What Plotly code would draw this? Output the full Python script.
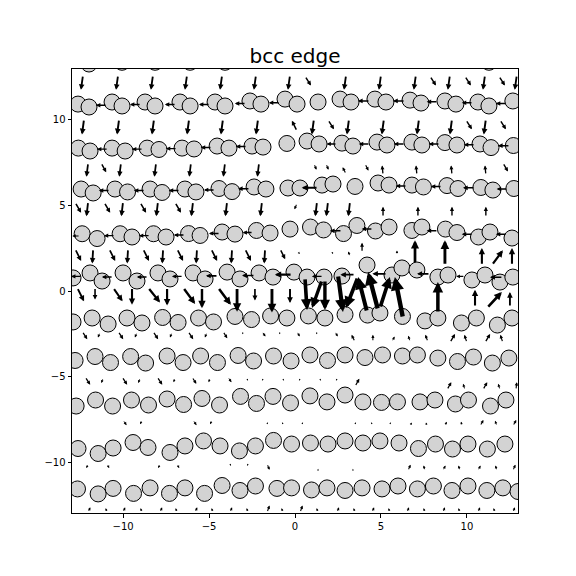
import plotly.graph_objects as go

# ---------------- atom rows (x, y) ----------------
r0_x = [-12.62,-11.98,-10.64,-10.06,-8.72,-8.14,-6.69,-6.10,-4.65,-4.07,-2.62,-1.98,-0.58,0.12,1.34,2.62,3.26,4.65,5.29,6.69,7.33,8.72,9.36,10.64,11.28,12.67]
r0_y = [13.4,13.2,13.5,13.3,13.5,13.3,13.5,13.3,13.5,13.3,13.55,13.4,13.65,13.4,13.5,13.65,13.5,13.65,13.5,13.6,13.45,13.55,13.4,13.5,13.3,13.55]
r1_x = [-12.62,-11.98,-10.64,-10.06,-8.72,-8.14,-6.69,-6.10,-4.65,-4.07,-2.62,-1.98,-0.58,0.12,1.34,2.62,3.26,4.65,5.29,6.69,7.33,8.72,9.36,10.64,11.28,12.67]
r1_y = [10.87,10.70,10.99,10.76,10.99,10.76,10.99,10.76,10.99,10.76,11.05,10.87,11.16,10.87,10.99,11.16,10.99,11.16,10.99,11.10,10.93,11.05,10.87,10.99,10.76,11.05]
r2_x = [-12.6,-11.92,-10.64,-9.88,-8.6,-7.91,-6.57,-5.87,-4.53,-3.84,-2.5,-1.86,-0.47,0.7,1.4,2.73,3.37,4.77,5.35,6.8,7.38,8.72,9.42,10.76,11.4,12.7]
r2_y = [8.31,8.14,8.31,8.14,8.31,8.23,8.31,8.26,8.43,8.31,8.43,8.37,8.58,8.72,8.55,8.6,8.43,8.66,8.49,8.66,8.49,8.63,8.49,8.55,8.34,8.46]
r3_x = [-12.44,-11.74,-10.47,-9.74,-8.43,-7.73,-6.4,-5.76,-4.42,-3.66,-2.38,-1.69,-0.41,0.29,1.57,2.21,3.49,4.83,5.47,6.8,7.47,8.84,9.48,10.81,11.51,12.73]
r3_y = [5.93,5.70,5.93,5.76,5.93,5.73,5.93,5.76,5.96,5.78,6.05,5.93,5.99,5.99,6.16,6.22,6.08,6.28,6.16,6.16,6.05,6.13,5.96,6.02,5.87,5.96]
r4_x = [-12.38,-11.51,-10.17,-9.48,-8.23,-7.5,-6.19,-5.52,-4.24,-3.49,-2.24,-1.45,-0.29,0.9,1.66,2.82,3.6,4.68,5.47,6.8,7.38,8.75,9.42,10.67,11.34,12.62]
r4_y = [3.33,3.05,3.33,3.14,3.33,3.14,3.34,3.23,3.43,3.31,3.52,3.37,3.6,3.72,3.55,3.34,3.81,3.49,3.72,3.52,3.72,3.6,3.4,3.14,3.43,3.08]
r5_x = [-12.91,-11.92,-11.22,-10.0,-9.19,-7.97,-7.27,-5.93,-5.23,-3.95,-3.2,-2.09,-1.28,-0.06,0.7,1.69,2.73,4.19,5.64,6.22,7.09,8.31,8.9,10.29,11.05,11.92,12.67]
r5_y = [0.76,1.05,0.58,1.05,0.58,1.05,0.7,1.05,0.7,1.1,0.7,1.05,0.81,1.1,0.81,0.81,0.87,1.51,0.93,1.34,1.22,0.81,0.93,0.64,0.93,0.52,0.81]
r6_x = [-12.91,-11.8,-10.87,-9.77,-8.9,-7.7,-6.8,-5.61,-4.74,-3.49,-2.53,-1.42,-0.47,0.78,1.74,2.91,4.22,4.94,6.25,7.56,8.31,9.68,10.55,11.77,12.62]
r6_y = [-1.8,-1.57,-1.92,-1.57,-1.86,-1.54,-1.83,-1.57,-1.8,-1.48,-1.66,-1.45,-1.57,-1.45,-1.57,-1.37,-1.4,-1.28,-1.48,-1.74,-1.57,-1.86,-1.57,-1.98,-1.57]
r7_x = [-12.79,-11.63,-10.73,-9.56,-8.69,-7.44,-6.51,-5.49,-4.51,-3.31,-2.41,-1.25,-0.23,0.87,1.89,2.91,4.07,5.09,6.25,7.12,8.31,9.45,10.38,11.48,12.44]
r7_y = [-4.04,-3.81,-4.16,-3.81,-4.19,-3.78,-4.16,-3.78,-4.16,-3.75,-4.07,-3.78,-4.07,-3.72,-4.04,-3.72,-3.87,-3.72,-3.78,-3.72,-3.9,-4.1,-3.84,-4.19,-3.9]
r8_x = [-12.73,-11.6,-10.61,-9.51,-8.52,-7.44,-6.48,-5.41,-4.39,-3.17,-2.24,-1.28,-0.26,0.87,1.86,2.91,3.95,5.03,5.96,7.27,8.14,9.33,10.09,11.37,12.27]
r8_y = [-6.69,-6.34,-6.69,-6.34,-6.63,-6.28,-6.6,-6.25,-6.63,-6.13,-6.54,-6.13,-6.51,-6.1,-6.45,-6.05,-6.45,-6.48,-6.45,-6.45,-6.34,-6.57,-6.34,-6.69,-6.34]
r9_x = [-12.62,-11.45,-10.58,-9.42,-8.55,-7.27,-6.4,-5.32,-4.36,-3.23,-2.3,-1.25,-0.2,0.9,1.92,2.91,3.95,4.94,6.05,7.18,8.17,9.16,10.06,11.19,12.21]
r9_y = [-9.16,-9.45,-9.13,-8.81,-9.1,-9.39,-9.01,-8.72,-9.01,-9.3,-9.01,-8.69,-8.9,-8.84,-8.9,-8.72,-8.84,-8.72,-8.84,-9.16,-8.9,-9.19,-8.9,-9.19,-8.9]
r10_x = [-12.65,-11.45,-10.58,-9.39,-8.43,-7.3,-6.4,-5.26,-4.24,-3.2,-2.3,-1.05,-0.2,0.96,1.86,2.91,3.9,5.06,5.99,7.12,8.05,9.13,10.06,11.16,12.09,12.97]
r10_y = [-11.51,-11.8,-11.48,-11.77,-11.45,-11.77,-11.45,-11.77,-11.31,-11.6,-11.34,-11.48,-11.45,-11.57,-11.45,-11.6,-11.45,-11.51,-11.34,-11.51,-11.34,-11.6,-11.34,-11.6,-11.45,-11.66]

# ---------------- displacement arrows: tail (x, y), vector (u, v) ----------------
b1_x = [-12.33,-10.29,-8.26,-6.28,-4.24,-2.27,-0.29,2.97,5.0,7.03,9.01,11.05,12.9,0.58,7.85,9.88,11.86]
b1_y = [12.55,12.55,12.55,12.55,12.55,12.55,12.55,12.55,12.55,12.55,12.55,12.55,12.55,12.5,12.5,12.5,12.5]
b1_u = [-0.12,-0.12,-0.12,-0.12,-0.12,-0.12,-0.12,-0.12,-0.12,-0.12,-0.12,-0.12,-0.12,0.35,0.35,0.35,0.35]
b1_v = [-0.85,-0.85,-0.85,-0.85,-0.85,-0.85,-0.85,-0.85,-0.85,-0.85,-0.85,-0.85,-0.85,-0.55,-0.55,-0.55,-0.55]

b2_x = [-12.27,-10.23,-8.2,-6.16,-4.19,-2.15,1.1,3.14,5.17,7.21,9.13,11.1,1.92,9.94,11.92,0.12]
b2_y = [10.0,10.0,10.0,10.0,10.0,10.0,10.0,10.0,10.0,10.0,10.0,10.0,9.95,9.95,9.95,9.3]
b2_u = [-0.12,-0.12,-0.12,-0.12,-0.12,-0.12,-0.12,-0.12,-0.12,-0.12,-0.12,-0.12,0.35,0.35,0.35,-0.3]
b2_v = [-0.9,-0.9,-0.9,-0.9,-0.9,-0.9,-0.9,-0.9,-0.9,-0.9,-0.9,-0.9,-0.55,-0.55,-0.55,0.6]

b3_x = [-12.03,-10.12,-8.08,-6.05,-4.07,-2.09,-11.28,0.12,1.1,1.8,4.07,12.09,2.97,5.12,7.09,9.13,11.1]
b3_y = [7.45,7.45,7.45,7.45,7.45,7.45,7.45,7.3,7.4,7.4,7.4,7.45,6.8,6.75,6.75,6.75,6.75]
b3_u = [-0.1,-0.1,-0.1,-0.1,-0.1,-0.1,0.3,0.05,0.15,0.15,0.2,0.3,-0.2,-0.05,-0.05,-0.05,-0.05]
b3_v = [-0.8,-0.8,-0.8,-0.8,-0.8,-0.8,-0.55,-0.1,-0.35,-0.35,-0.4,-0.5,0.4,0.55,0.55,0.55,0.55]

b4_x = [-12.03,-10.0,-7.97,-5.93,-3.95,-1.92,1.28,1.92,3.2,-12.79,-11.1,-9.01,-6.98,0.12,5.12,7.15,9.13,11.1]
b4_y = [5.2,5.2,5.2,5.2,5.2,5.2,5.2,5.2,5.2,5.15,5.15,5.15,5.15,5.1,4.3,4.3,4.3,4.3]
b4_u = [-0.1,-0.1,-0.1,-0.1,-0.1,-0.1,-0.1,-0.1,-0.1,0.35,0.35,0.35,0.35,-0.15,0.0,0.0,0.0,0.0]
b4_v = [-0.85,-0.85,-0.85,-0.85,-0.85,-0.85,-0.85,-0.85,-0.85,-0.6,-0.6,-0.6,-0.6,-0.35,0.6,0.6,0.6,0.6]

b5_x = [-11.74,-9.71,-7.67,-5.7,-3.66,-1.74,-12.79,-10.81,-8.84,-6.86,-4.88,-2.91,-0.87,0.17,2.15,3.2,3.9,5.93,6.98,8.72,10.87,11.45,12.62]
b5_y = [2.45,2.45,2.45,2.45,2.45,2.45,2.45,2.45,2.45,2.45,2.45,2.45,2.45,2.3,2.3,2.0,2.25,2.1,1.6,1.5,1.5,1.5,1.5]
b5_u = [-0.05,-0.05,-0.05,-0.05,-0.05,-0.05,0.35,0.35,0.35,0.35,0.35,0.35,0.3,0.1,0.05,-0.1,0.0,0.0,0.0,0.0,0.0,0.64,0.0]
b5_v = [-0.85,-0.85,-0.85,-0.85,-0.85,-0.85,-0.7,-0.7,-0.7,-0.7,-0.7,-0.7,-0.6,-0.15,-0.15,0.3,0.55,0.25,1.35,1.45,1.0,0.87,1.0]

b6_x = [-12.67,-10.58,-8.55,-6.51,-4.48,-11.63,-9.48,-7.44,-5.41,-3.37,-2.33,-1.34,-0.29]
b6_y = [0.2,0.2,0.2,0.2,0.2,0.2,0.2,0.2,0.2,0.2,0.2,0.2,0.2]
b6_u = [0.4,0.55,0.7,0.7,0.75,0.0,0.0,0.0,0.0,0.0,0.0,0.0,0.0]
b6_v = [-0.8,-0.8,-0.87,-0.95,-1.0,-0.7,-1.0,-1.05,-1.2,-1.4,-0.75,-1.45,-0.9]

core_x = [0.58,1.57,1.74,2.5,3.66,4.19,4.83,4.94,6.28,8.31,10.47,11.16,12.5]
core_y = [0.76,0.64,0.64,0.93,0.81,-1.22,-1.1,-0.99,-1.57,-1.28,-0.93,-0.99,-0.93]
core_u = [0.12,-0.58,0.0,0.29,-0.7,-0.52,-0.58,0.58,-0.47,0.0,0.0,0.87,0.0]
core_v = [-1.86,-1.63,-1.74,-2.15,-1.8,2.03,2.2,1.8,2.38,1.8,1.0,0.93,0.87]

b7_x = [-12.38,-10.29,-8.26,-6.22,-4.19,-1.92,0.12,2.33,-11.34,-9.19,-7.15,-5.12,-3.02,-0.87,1.28,3.49,4.53,5.64,6.69,7.73,9.01,10.0,11.05,12.09]
b7_y = [-2.35,-2.35,-2.35,-2.35,-2.35,-2.35,-2.35,-2.35,-2.4,-2.4,-2.4,-2.4,-2.4,-2.4,-2.4,-2.95,-2.95,-2.95,-2.95,-2.95,-3.0,-3.0,-3.0,-3.0]
b7_u = [0.3,0.3,0.3,0.3,0.25,0.2,0.15,0.15,-0.12,-0.12,-0.12,-0.12,-0.05,-0.05,-0.05,-0.2,0.0,0.15,-0.1,-0.15,0.3,-0.15,0.3,-0.15]
b7_v = [-0.45,-0.45,-0.45,-0.45,-0.4,-0.3,-0.3,-0.3,-0.3,-0.3,-0.3,-0.3,-0.12,-0.12,-0.12,0.4,0.4,0.3,0.35,0.4,0.5,0.45,0.5,0.45]

b8_x = [-12.21,-10.06,-8.02,-5.99,-3.9,-11.16,-9.01,-6.98,-4.94,-2.79,-1.86,-0.7,0.29,1.45,2.44,3.49,8.84,9.88,10.93,11.92,12.85]
b8_y = [-5.0,-5.0,-5.0,-5.0,-5.0,-5.05,-5.05,-5.05,-5.05,-5.1,-5.1,-5.1,-5.1,-5.1,-5.1,-5.55,-5.75,-5.75,-5.75,-5.75,-5.75]
b8_u = [0.3,0.3,0.3,0.25,0.2,-0.1,-0.1,-0.08,-0.08,0.05,-0.05,0.05,-0.05,0.05,-0.05,0.25,0.25,-0.1,0.25,-0.1,0.05]
b8_v = [-0.45,-0.45,-0.45,-0.4,-0.3,-0.3,-0.3,-0.25,-0.25,-0.12,-0.12,-0.12,-0.12,-0.12,-0.12,0.45,0.45,0.35,0.45,0.35,0.45]

b9_x = [-10.0,-8.9,-5.93,-4.83,-1.63,-0.7,0.41,3.49,4.48,5.52,6.69,7.67,8.72,9.71,10.76,11.74,12.67]
b9_y = [-7.5,-7.5,-7.5,-7.5,-7.75,-7.75,-7.75,-7.75,-7.75,-7.75,-7.85,-7.85,-7.85,-7.85,-7.85,-7.85,-7.85]
b9_u = [0.2,-0.1,0.2,-0.1,0.05,-0.05,0.05,0.05,-0.05,0.05,0.1,-0.05,0.1,-0.05,0.2,-0.1,0.2]
b9_v = [-0.3,-0.25,-0.3,-0.25,0.12,0.12,0.12,0.12,0.12,0.12,0.2,0.2,0.25,0.25,0.35,0.3,0.35]

b10_x = [-12.03,-10.93,-7.85,-6.86,-3.78,-2.73,-1.63,1.34,3.37,6.57,7.56,8.6,9.59,10.64,11.74,12.67]
b10_y = [-10.05,-10.05,-10.05,-10.05,-10.05,-10.05,-10.05,-10.45,-10.45,-10.45,-10.45,-10.45,-10.45,-10.45,-10.45,-10.45]
b10_u = [-0.1,0.12,-0.1,0.12,0.05,-0.05,0.15,0.0,0.0,0.15,-0.08,0.15,-0.08,0.15,-0.08,0.15]
b10_v = [-0.25,-0.25,-0.25,-0.25,-0.12,-0.12,-0.35,0.12,0.12,0.35,0.3,0.3,0.3,0.3,0.3,0.35]

b11_x = [-12.03,-10.93,-10.0,-8.9,-7.85,-6.86,-5.81,-4.77,-3.78,-2.73,-1.63,-0.7,0.29,1.34,2.44,3.49,4.48,5.52,6.51,7.56,8.6,9.59,10.64,11.63,12.67]
b11_y = [-12.88,-12.88,-12.88,-12.88,-12.88,-12.88,-12.88,-12.88,-12.88,-12.88,-12.88,-12.88,-12.88,-12.88,-12.88,-12.88,-12.88,-12.88,-12.88,-12.88,-12.88,-12.88,-12.88,-12.88,-12.88]
b11_u = [0.12,-0.08,0.12,-0.08,0.12,-0.08,0.12,-0.08,0.12,-0.08,0.15,-0.08,0.15,-0.08,0.12,-0.08,0.12,-0.08,0.12,-0.08,0.12,-0.08,0.12,-0.08,0.12]
b11_v = [0.3,0.25,0.3,0.25,0.3,0.25,0.3,0.25,0.3,0.25,0.4,0.25,0.4,0.25,0.3,0.25,0.3,0.25,0.3,0.25,0.3,0.25,0.3,0.25,0.3]

# horizontal arrows along the compressed (upper) rows, pointing left
h1_x = [-10.93,-8.95,-6.92,-4.94,-2.85,-0.87,4.36,6.4,8.31,10.35,12.33]
h1_y = [10.8,10.85,10.85,10.85,10.9,10.95,11.05,11.05,11.0,10.95,10.9]
h1_u = [-0.65,-0.65,-0.65,-0.65,-0.65,-0.65,-0.7,-0.7,-0.65,-0.65,-0.65]
h2_x = [-10.87,-8.84,-6.86,-4.83,-2.79,2.44,4.36,6.4,8.43,10.47,12.5]
h2_y = [8.25,8.25,8.28,8.35,8.4,8.55,8.55,8.55,8.55,8.5,8.45]
h2_u = [-0.65,-0.65,-0.65,-0.65,-0.65,-0.6,-0.65,-0.65,-0.65,-0.65,-0.7]
h3_x = [-10.76,-8.72,-6.69,-4.65,-2.62,1.34,6.51,8.55,10.47,12.38]
h3_y = [5.85,5.85,5.85,5.88,5.95,6.0,6.1,6.08,6.0,5.93]
h3_u = [-0.65,-0.65,-0.65,-0.65,-0.7,-0.95,-0.65,-0.65,-0.7,-0.65]
h4_x = [-12.5,-10.47,-8.43,-6.4,-4.36,-2.44,2.73,4.53,8.31,10.35,12.33]
h4_y = [3.2,3.22,3.22,3.25,3.35,3.4,3.5,3.6,3.5,3.3,3.3]
h4_u = [-0.45,-0.65,-0.65,-0.65,-0.65,-0.6,-0.7,-0.65,-0.65,-0.65,-0.65]
h5_x = [-12.38,-10.58,-8.55,-6.51,-4.48,-2.33,-0.17,1.63,3.49,5.35,7.85,9.88,12.09]
h5_y = [0.85,0.82,0.82,0.85,0.88,0.9,0.95,0.85,0.95,1.0,1.0,0.85,0.8]
h5_u = [-0.65,-0.65,-0.65,-0.65,-0.7,-0.75,-1.0,-0.65,-0.85,-0.85,-0.75,-0.5,-0.75]

ATOM_ROWS = [(r0_x, r0_y), (r1_x, r1_y), (r2_x, r2_y), (r3_x, r3_y), (r4_x, r4_y), (r5_x, r5_y),
             (r6_x, r6_y), (r7_x, r7_y), (r8_x, r8_y), (r9_x, r9_y), (r10_x, r10_y)]

fig = go.Figure()
for xs, ys in ATOM_ROWS:
    fig.add_trace(go.Scatter(
        x=xs, y=ys, mode="markers", showlegend=False, hoverinfo="skip",
        marker=dict(size=16, color="#d3d3d3", line=dict(color="black", width=1)),
        cliponaxis=True))

annotations = []

def add_arrows(xs, ys, us, vs):
    for x0, y0, u, v in zip(xs, ys, us, vs):
        L = (u * u + v * v) ** 0.5
        w = min(4.4, max(0.6, 0.35 + 1.75 * L))
        annotations.append(dict(
            x=x0 + u, y=y0 + v, ax=x0, ay=y0,
            xref="x", yref="y", axref="x", ayref="y",
            text="", showarrow=True, arrowhead=2, arrowsize=0.6,
            arrowwidth=w, arrowcolor="black", standoff=0, startstandoff=0))

for xs, ys, us, vs in [(b1_x, b1_y, b1_u, b1_v), (b2_x, b2_y, b2_u, b2_v), (b3_x, b3_y, b3_u, b3_v),
                       (b4_x, b4_y, b4_u, b4_v), (b5_x, b5_y, b5_u, b5_v), (b6_x, b6_y, b6_u, b6_v),
                       (core_x, core_y, core_u, core_v), (b7_x, b7_y, b7_u, b7_v),
                       (b8_x, b8_y, b8_u, b8_v), (b9_x, b9_y, b9_u, b9_v),
                       (b10_x, b10_y, b10_u, b10_v), (b11_x, b11_y, b11_u, b11_v)]:
    add_arrows(xs, ys, us, vs)

for xs, ys, us in [(h1_x, h1_y, h1_u), (h2_x, h2_y, h2_u), (h3_x, h3_y, h3_u),
                   (h4_x, h4_y, h4_u), (h5_x, h5_y, h5_u)]:
    add_arrows(xs, ys, us, [0.0 for _ in us])

axis_common = dict(
    showgrid=False, zeroline=False, showline=True, mirror=True,
    linecolor="black", linewidth=1, ticks="outside", ticklen=3.5, tickwidth=1,
    tickcolor="black", tickvals=[-10, -5, 0, 5, 10],
    tickfont=dict(family="DejaVu Sans", size=10, color="black"))

# the page body adds an 8 px offset; margins compensate so the axes sit where the reference has them
fig.update_layout(
    width=576, height=576, autosize=False,
    margin=dict(l=64, r=66, t=61, b=71, pad=0),
    paper_bgcolor="white", plot_bgcolor="white",
    title=dict(text="bcc edge", x=0.5, xref="paper", xanchor="center",
               y=1 - 48 / 576, yref="container", yanchor="middle",
               font=dict(family="DejaVu Sans", size=20, color="black")),
    xaxis=dict(range=[-12.97, 12.97], **axis_common),
    yaxis=dict(range=[-12.91, 12.91], **axis_common),
    annotations=annotations,
    font=dict(family="DejaVu Sans"),
)

fig.write_html("out.html")
